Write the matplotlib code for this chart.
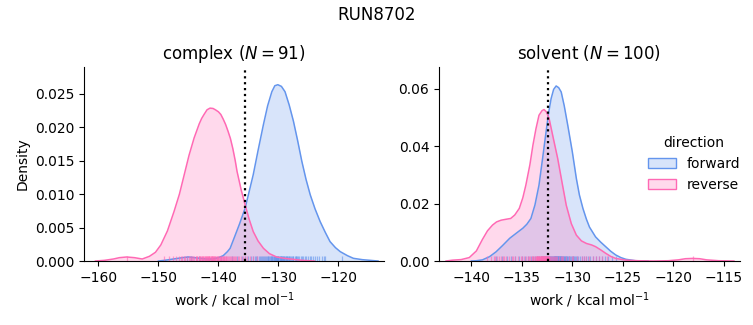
import matplotlib
matplotlib.use("Agg")
import matplotlib.pyplot as plt
from matplotlib.patches import Patch
from matplotlib.colors import to_rgba

# ---- series ---------------------------------------------------------------
run_name = "RUN8702"
phases = ["complex", "solvent"]
n_samples = [91, 100]
directions = ["forward", "reverse"]
colors = {"forward": "#6495ED", "reverse": "#FF69B4"}

# kernel density estimates (work in kcal/mol, density)
complex_forward_x = [-150.0, -149.0, -147.5, -146.0, -145.0, -144.0, -143.0, -142.0, -141.0,
                     -140.0, -139.2, -138.5, -138.05, -137.4, -136.5, -135.55, -134.9, -134.2,
                     -133.4, -132.5, -131.8, -131.1, -130.6, -130.1, -129.5, -128.9, -128.2,
                     -127.5, -126.8, -126.1, -125.4, -124.7, -123.9, -123.05, -122.2, -121.4,
                     -120.5, -119.7, -118.5, -117.5, -116.0, -114.7, -113.4]
complex_forward_y = [0.0000, 0.0001, 0.0003, 0.0005, 0.0006, 0.0005, 0.0004, 0.0003, 0.0003,
                     0.0005, 0.0008, 0.0014, 0.0019, 0.0034, 0.0055, 0.0079, 0.0103, 0.0129,
                     0.0165, 0.0204, 0.0232, 0.0253, 0.0262, 0.02635, 0.0261, 0.0253, 0.0233,
                     0.0209, 0.0180, 0.0149, 0.0122, 0.0099, 0.0078, 0.0059, 0.0043, 0.0029,
                     0.0020, 0.0014, 0.0008, 0.0004, 0.0002, 0.0001, 0.0000]

complex_reverse_x = [-160.5, -159.0, -157.5, -156.5, -155.3, -154.0, -152.7, -151.5, -150.5,
                     -149.6, -148.5, -147.4, -146.5, -145.7, -144.9, -144.05, -143.2, -142.8,
                     -142.4, -141.9, -141.4, -140.9, -140.5, -140.0, -139.6, -139.2, -138.8,
                     -138.4, -138.0, -137.6, -137.2, -136.9, -136.5, -136.2, -135.55, -134.9,
                     -134.2, -133.4, -132.5, -131.5, -130.3, -129.0, -128.0, -127.0, -126.0,
                     -124.0]
complex_reverse_y = [0.0000, 0.0001, 0.0003, 0.0005, 0.0006, 0.0005, 0.0003, 0.0007, 0.0013,
                     0.0024, 0.0045, 0.0074, 0.0100, 0.0129, 0.0158, 0.0184, 0.0205, 0.0213,
                     0.0219, 0.0226, 0.02285, 0.0228, 0.0226, 0.0223, 0.0219, 0.0212, 0.0204,
                     0.0194, 0.0183, 0.0168, 0.0150, 0.0134, 0.0118, 0.0106, 0.0084, 0.0063,
                     0.0044, 0.0030, 0.0019, 0.0011, 0.0006, 0.0004, 0.0003, 0.0002, 0.0001,
                     0.0000]

solvent_forward_x = [-140.0, -139.5, -138.9, -138.2, -137.55, -136.9, -136.2, -135.5, -134.9,
                     -134.5, -134.1, -133.7, -133.3, -132.95, -132.6, -132.35, -132.1, -131.85,
                     -131.6, -131.35, -131.1, -130.8, -130.45, -130.0, -129.6, -129.3, -128.95,
                     -128.6, -128.3, -127.7, -127.2, -126.7, -126.2, -125.7, -125.2, -124.7,
                     -123.75, -122.5]
solvent_forward_y = [0.0000, 0.0001, 0.0004, 0.0015, 0.0032, 0.0054, 0.0079, 0.0098, 0.0114,
                     0.0128, 0.0148, 0.0195, 0.0264, 0.0355, 0.0449, 0.0515, 0.0565, 0.0597,
                     0.0609, 0.0603, 0.0588, 0.0540, 0.0472, 0.0380, 0.0287, 0.0230, 0.0183,
                     0.0145, 0.0118, 0.0084, 0.0066, 0.0050, 0.0034, 0.0021, 0.0012, 0.0006,
                     0.0001, 0.0000]

solvent_reverse_x = [-142.5, -141.85, -141.0, -140.2, -139.5, -138.9, -138.4, -137.9, -137.5,
                     -137.05, -136.6, -136.1, -135.7, -135.25, -134.9, -134.6, -134.2, -133.9,
                     -133.6, -133.3, -133.0, -132.8, -132.55, -132.3, -131.9, -131.45, -131.0,
                     -130.6, -130.1, -129.6, -129.1, -128.6, -128.1, -127.7, -127.2, -126.7,
                     -126.2, -125.7, -124.7, -123.5, -122.0, -120.5, -119.5, -118.8, -118.1,
                     -117.4, -116.7, -115.5, -114.0]
solvent_reverse_y = [0.0000, 0.0003, 0.0005, 0.0012, 0.0035, 0.0075, 0.0105, 0.0125, 0.0136,
                     0.0142, 0.0145, 0.0148, 0.0160, 0.0183, 0.0220, 0.0264, 0.0335, 0.0403,
                     0.0460, 0.0507, 0.0523, 0.0527, 0.0518, 0.0496, 0.0430, 0.0357, 0.0270,
                     0.0194, 0.0130, 0.0090, 0.0070, 0.0061, 0.0056, 0.0050, 0.0039, 0.0027,
                     0.0016, 0.0009, 0.0003, 0.0001, 0.0000, 0.0001, 0.0004, 0.0008, 0.0009,
                     0.0008, 0.0004, 0.0001, 0.0000]

# individual work values (rug)
complex_forward_work = [
    -145.3, -144.6, -143.2, -139.5, -137.8, -136.9, -136.1, -135.5, -135.0, -134.6,
    -134.2, -133.9, -133.6, -133.3, -133.0, -132.8, -132.6, -132.4, -132.2, -132.0,
    -131.8, -131.7, -131.5, -131.4, -131.2, -131.1, -131.0, -130.9, -130.8, -130.7,
    -130.6, -130.5, -130.4, -130.3, -130.2, -130.1, -130.0, -129.9, -129.8, -129.7,
    -129.6, -129.5, -129.4, -129.3, -129.2, -129.1, -129.0, -128.9, -128.8, -128.6,
    -128.5, -128.4, -128.2, -128.1, -127.9, -127.8, -127.6, -127.5, -127.3, -127.1,
    -126.9, -126.7, -126.5, -126.3, -126.1, -125.9, -125.6, -125.4, -125.1, -124.8,
    -124.5, -124.2, -123.9, -123.6, -123.2, -122.8, -122.4, -122.2, -119.4, -130.35,
    -129.65, -131.3, -128.3, -130.05, -129.35, -132.9, -127.0, -133.8, -131.9, -130.45,
    -128.75]
complex_reverse_work = [
    -155.3, -149.1, -148.2, -147.6, -147.0, -146.6, -146.1, -145.8, -145.5, -145.2,
    -144.9, -144.7, -144.4, -144.2, -144.0, -143.8, -143.6, -143.5, -143.3, -143.1,
    -143.0, -142.8, -142.7, -142.5, -142.4, -142.3, -142.1, -142.0, -141.9, -141.8,
    -141.7, -141.5, -141.4, -141.3, -141.2, -141.1, -141.0, -140.9, -140.8, -140.7,
    -140.5, -140.4, -140.3, -140.2, -140.1, -139.9, -139.8, -139.7, -139.5, -139.4,
    -139.3, -139.1, -139.0, -138.8, -138.7, -138.5, -138.4, -138.2, -138.0, -137.8,
    -137.6, -137.4, -137.2, -137.0, -136.8, -136.5, -136.2, -135.9, -135.6, -135.2,
    -134.8, -134.3, -133.5, -141.55, -142.25, -140.65, -141.95, -143.25, -139.65, -140.0,
    -141.65, -142.9, -144.55, -138.95, -140.85, -142.6, -141.15, -139.2, -143.7, -137.9,
    -146.3]
solvent_forward_work = [
    -137.6, -137.0, -136.5, -136.1, -135.7, -135.3, -135.0, -134.7, -134.4, -134.1,
    -133.9, -133.7, -133.5, -133.3, -133.1, -133.0, -132.9, -132.8, -132.7, -132.6,
    -132.5, -132.4, -132.35, -132.3, -132.2, -132.15, -132.1, -132.0, -131.95, -131.9,
    -131.85, -131.8, -131.75, -131.7, -131.65, -131.6, -131.55, -131.5, -131.45, -131.4,
    -131.35, -131.3, -131.25, -131.2, -131.15, -131.1, -131.05, -131.0, -130.95, -130.9,
    -130.85, -130.8, -130.7, -130.6, -130.5, -130.4, -130.3, -130.2, -130.1, -130.0,
    -129.9, -129.8, -129.7, -129.6, -129.5, -129.4, -129.2, -129.0, -128.8, -128.6,
    -128.4, -128.2, -128.0, -127.7, -127.4, -127.1, -126.8, -126.5, -126.1, -125.7,
    -131.62, -131.48, -131.38, -131.28, -131.72, -131.82, -131.58, -131.42, -132.05, -132.25,
    -130.65, -130.75, -131.12, -131.22, -131.68, -130.55, -132.45, -132.55, -129.95, -130.35]
solvent_reverse_work = [
    -138.4, -138.1, -137.8, -137.5, -137.3, -137.1, -136.9, -136.6, -136.3, -136.0,
    -135.7, -135.4, -135.1, -134.8, -134.6, -134.4, -134.2, -134.0, -133.9, -133.8,
    -133.7, -133.6, -133.5, -133.45, -133.4, -133.35, -133.3, -133.25, -133.2, -133.15,
    -133.1, -133.05, -133.0, -132.95, -132.9, -132.85, -132.8, -132.75, -132.7, -132.65,
    -132.6, -132.55, -132.5, -132.45, -132.4, -132.35, -132.3, -132.2, -132.1, -132.0,
    -131.9, -131.8, -131.7, -131.5, -131.3, -131.1, -130.9, -130.6, -130.3, -129.9,
    -129.5, -129.0, -128.6, -128.3, -128.0, -127.7, -127.4, -127.1, -126.6, -118.1,
    -133.02, -132.88, -132.78, -132.92, -133.08, -132.68, -132.98, -133.18, -132.82, -132.72,
    -133.12, -132.62, -133.28, -132.58, -133.38, -132.48, -133.48, -132.38, -133.58, -132.28,
    -137.7, -136.8, -135.9, -135.0, -134.3, -133.95, -131.6, -131.0, -130.0, -128.8]

# free energy estimates marked on each panel
estimate = [-135.55, -132.4]

curves = {
    ("complex", "forward"): (complex_forward_x, complex_forward_y, complex_forward_work),
    ("complex", "reverse"): (complex_reverse_x, complex_reverse_y, complex_reverse_work),
    ("solvent", "forward"): (solvent_forward_x, solvent_forward_y, solvent_forward_work),
    ("solvent", "reverse"): (solvent_reverse_x, solvent_reverse_y, solvent_reverse_work),
}

# ---- figure ---------------------------------------------------------------
fig = plt.figure(figsize=(7.53, 3.25), dpi=100)
axes = [fig.add_axes([0.1116, 0.1969, 0.3984, 0.597]),
        fig.add_axes([0.5830, 0.1969, 0.3997, 0.597])]

xlims = [(-162.4, -112.4), (-143.2, -113.4)]
ylims = [(0, 0.029), (0, 0.0675)]
xticks = [[-160, -150, -140, -130, -120], [-140, -135, -130, -125, -120, -115]]
yticks = [[0, 0.005, 0.010, 0.015, 0.020, 0.025], [0, 0.02, 0.04, 0.06]]
yfmt = ["{:.3f}", "{:.2f}"]

for i, (ax, phase) in enumerate(zip(axes, phases)):
    for d in directions:
        xs, ys, work = curves[(phase, d)]
        c = colors[d]
        ax.fill_between(xs, ys, 0, color=c, alpha=0.25, lw=0)
        ax.plot(xs, ys, color=c, lw=1.1)
        ax.vlines(work, 0, 0.025, transform=ax.get_xaxis_transform(),
                  color=c, lw=0.9, alpha=0.6)
    ax.axvline(estimate[i], color="black", ls=":", lw=1.6)
    ax.set_xticks(xticks[i])
    ax.set_xlim(*xlims[i])
    ax.set_ylim(*ylims[i])
    ax.set_yticks(yticks[i])
    ax.set_yticklabels([yfmt[i].format(v) for v in yticks[i]])
    ax.spines["top"].set_visible(False)
    ax.spines["right"].set_visible(False)
    ax.set_xlabel("work / kcal mol$^{-1}$", fontsize=10)
    ax.set_title(f"{phase} ($N = {n_samples[i]}$)", fontsize=12)

axes[0].set_ylabel("Density", fontsize=10)

handles = [Patch(facecolor=to_rgba(colors[d], 0.25), edgecolor=colors[d], lw=1)
           for d in directions]
fig.legend(handles, directions, title="direction", frameon=False, fontsize=10,
           title_fontsize=10, loc="upper left", bbox_to_anchor=(0.8437, 0.62))

fig.suptitle(run_name, fontsize=12)
fig.savefig("out.png", dpi=100)
